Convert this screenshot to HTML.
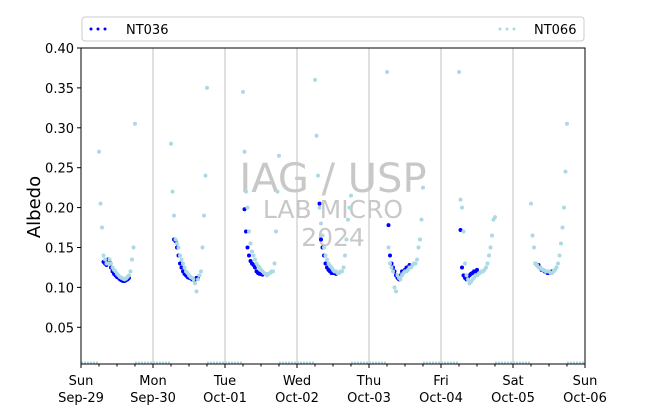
<!DOCTYPE html>
<html><head><meta charset="utf-8"><style>
body{margin:0;background:#fff;}
svg{display:block;font-family:"DejaVu Sans","Liberation Sans",sans-serif;}
</style></head><body>
<svg id="chart" width="650" height="409" viewBox="0 0 650 409" xmlns="http://www.w3.org/2000/svg">
<rect x="0" y="0" width="650" height="409" fill="#fff"/>
<g id="grid"></g>
<g id="watermark" fill="#c8c8c8" text-anchor="middle">
<text x="333" y="192" font-size="40">IAG / USP</text>
<text x="333" y="218" font-size="25">LAB MICRO</text>
<text x="333" y="246" font-size="25">2024</text>
</g>
<g id="marks"></g>
<g id="axes"></g>
<text x="40" y="207" font-size="18" text-anchor="middle" transform="rotate(-90 40 207)">Albedo</text>
<g>
<rect x="82" y="17" width="502" height="24" rx="3" fill="#fff" stroke="#ccc"/>
<g>
<circle cx="91" cy="29" r="1.5" fill="#0000ff"/><circle cx="98" cy="29" r="1.5" fill="#0000ff"/><circle cx="105" cy="29" r="1.5" fill="#0000ff"/>
<text x="126" y="34" font-size="13">NT036</text></g>
<g>
<circle cx="500" cy="29" r="1.5" fill="#add8e6"/><circle cx="507" cy="29" r="1.5" fill="#add8e6"/><circle cx="514" cy="29" r="1.5" fill="#add8e6"/>
<text x="534" y="34" font-size="13">NT066</text></g>
</g>
</svg>
<script>
const dayLabels=["Sun","Mon","Tue","Wed","Thu","Fri","Sat","Sun"];
const dateLabels=["Sep-29","Sep-30","Oct-01","Oct-02","Oct-03","Oct-04","Oct-05","Oct-06"];
const yTicks=[0.05,0.10,0.15,0.20,0.25,0.30,0.35,0.40];
const hours=[6,6.5,7,7.5,8,8.5,9,9.5,10,10.5,11,11.5,12,12.5,13,13.5,14,14.5,15,15.5,16,16.5,17,17.5,18];
const nt066Day0=[0.27,0.205,0.175,0.14,0.135,0.13,0.13,0.135,0.13,0.125,0.122,0.12,0.117,0.115,0.113,0.112,0.111,0.11,0.111,0.113,0.115,0.12,0.135,0.15,0.305];
const nt066Day1=[0.28,0.22,0.19,0.16,0.155,0.15,0.14,0.135,0.13,0.125,0.12,0.118,0.115,0.113,0.112,0.11,0.105,0.095,0.11,0.115,0.12,0.15,0.19,0.24,0.35];
const nt066Day2=[0.345,0.27,0.22,0.2,0.17,0.155,0.145,0.14,0.135,0.13,0.127,0.125,0.122,0.12,0.118,0.117,0.115,0.117,0.118,0.12,0.12,0.13,0.17,0.22,0.265];
const nt066Day3=[0.36,0.29,0.24,0.2,0.18,0.165,0.15,0.14,0.135,0.13,0.127,0.125,0.122,0.12,0.12,0.118,0.118,0.12,0.12,0.125,0.14,0.16,0.185,0.2,0.215];
const nt066Day4=[0.37,0.15,0.13,0.125,0.12,0.1,0.095,0.115,0.112,0.11,0.115,0.118,0.12,0.12,0.122,0.125,0.125,0.128,0.13,0.13,0.135,0.15,0.16,0.185,0.225];
const nt066Day5=[0.37,0.21,0.2,0.17,0.13,0.115,0.11,0.105,0.107,0.11,0.112,0.115,0.115,0.117,0.118,0.12,0.12,0.122,0.125,0.13,0.14,0.15,0.165,0.185,0.188];
const nt066Day6=[0.205,0.165,0.15,0.13,0.128,0.125,0.125,0.123,0.122,0.121,0.12,0.12,0.12,0.118,0.118,0.12,0.122,0.125,0.13,0.14,0.155,0.175,0.2,0.245,0.305];
const nt036Day0=[null,null,null,0.132,0.13,0.128,0.135,0.132,0.125,0.12,0.117,0.115,0.113,0.112,0.11,0.109,0.108,0.108,0.109,0.11,0.112,null,null,null,null];
const nt036Day1=[null,null,0.16,0.158,0.15,0.14,0.13,0.125,0.12,0.117,0.115,0.113,0.112,0.112,0.11,0.11,0.11,0.112,0.112,null,null,null,null,null,null];
const nt036Day2=[null,0.198,0.17,0.15,0.14,0.133,0.13,0.128,0.125,0.12,0.118,0.117,0.117,0.116,null,null,null,null,null,null,null,null,null,null,null];
const nt036Day3=[null,null,null,0.205,0.16,0.15,0.14,0.13,0.125,0.122,0.12,0.118,0.118,0.118,0.117,null,null,null,null,null,null,null,null,null,null];
const nt036Day4=[null,0.178,0.14,0.13,0.125,0.12,0.115,0.112,0.11,0.115,0.12,0.12,0.122,0.125,0.125,0.128,null,null,null,null,null,null,null,null,null];
const nt036Day5=[null,0.172,0.125,0.115,0.112,0.11,0.112,0.115,0.117,0.118,0.12,0.12,0.122,null,null,null,null,null,null,null,null,null,null,null,null];
const nt036Day6=[null,null,null,0.13,0.128,0.128,0.125,0.122,0.122,0.12,0.12,0.118,0.118,0.118,0.12,null,null,null,null,null,null,null,null,null,null];
const nt066Days=[nt066Day0,nt066Day1,nt066Day2,nt066Day3,nt066Day4,nt066Day5,nt066Day6];
const nt036Days=[nt036Day0,nt036Day1,nt036Day2,nt036Day3,nt036Day4,nt036Day5,nt036Day6];

const L=81,R=585,T=48,B=364,YMIN=0.004,YMAX=0.40,NDAYS=7;
const xs=d=>L+(R-L)*d/NDAYS;
const ys=v=>B-(B-T)*(v-YMIN)/(YMAX-YMIN);
const NS="http://www.w3.org/2000/svg";
function mk(tag,attrs,parent){const e=document.createElementNS(NS,tag);for(const k in attrs)e.setAttribute(k,attrs[k]);parent.appendChild(e);return e;}
const grid=document.getElementById('grid'),marks=document.getElementById('marks'),axes=document.getElementById('axes');
for(let d=1;d<NDAYS;d++){
  const g=mk('line',{x1:xs(d),x2:xs(d),y1:T,y2:B,stroke:'#b0b0b0','stroke-width':0.8},grid);
  
  
}
for(let d=0;d<NDAYS;d++){
  const segs=[[d,d+0.25],[d+0.75,d+1]];
  segs.forEach(s=>{
    const n=mk('line',{x1:xs(s[0]),x2:xs(s[1]),y1:B-1,y2:B-1,stroke:'#add8e6','stroke-width':3,'stroke-dasharray':'2 1'},marks);
    
    
  });
}
function drawSeries(days,color,r,name){
  days.forEach((vals,d)=>{
    vals.forEach((v,i)=>{
      if(v===null)return;
      const c=mk('circle',{cx:xs(d+hours[i]/24),cy:ys(v),r:r,fill:color},marks);
      
      
    });
  });
}
drawSeries(nt036Days,'#0000ff',2,'nt036');
drawSeries(nt066Days,'#add8e6',2,'nt066');
const fr=mk('rect',{x:L,y:T,width:R-L,height:B-T,fill:'none',stroke:'#000','stroke-width':1},axes);


yTicks.forEach(v=>{
  const y=ys(v);
  const tk=mk('line',{x1:L-4,x2:L,y1:y,y2:y,stroke:'#000'},axes);
  
  
  const t=mk('text',{x:L-7,y:y+5,'font-size':13,'text-anchor':'end'},axes);
  t.textContent=v.toFixed(2);
  
  
});
for(let q=0;q<=NDAYS*4;q++){
  const x=xs(q/4),major=q%4===0;
  const tk=mk('line',{x1:x,x2:x,y1:B,y2:B+(major?4:2.5),stroke:'#000'},axes);
  
  
}
dayLabels.forEach((lab,i)=>{
  const t=mk('text',{x:xs(i),y:385,'font-size':13,'text-anchor':'middle'},axes);
  t.textContent=lab;
  
  
  const t2=mk('text',{x:xs(i),y:402,'font-size':13,'text-anchor':'middle'},axes);
  t2.textContent=dateLabels[i];
  
  
});
</script>
</body></html>
